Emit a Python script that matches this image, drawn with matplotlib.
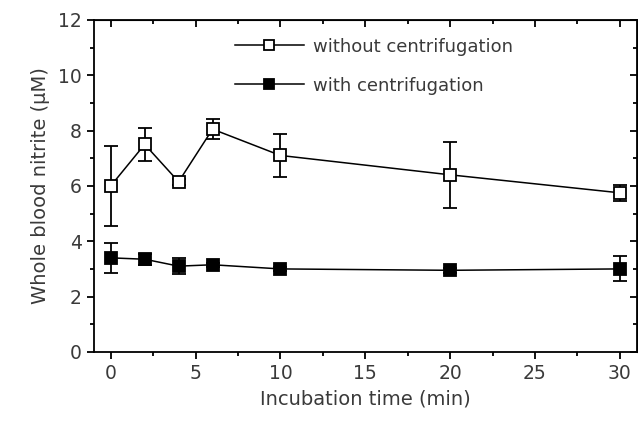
import numpy as np
import matplotlib.pyplot as plt
from matplotlib.ticker import MultipleLocator
from matplotlib.lines import Line2D

tiempo = [0, 2, 4, 6, 10, 20, 30]

sin_centr = [6.0, 7.5, 6.15, 8.05, 7.1, 6.4, 5.75]
sin_centr_err = [1.45, 0.6, 0.1, 0.35, 0.78, 1.2, 0.28]

con_centr = [3.4, 3.35, 3.1, 3.15, 3.0, 2.95, 3.0]
con_centr_err = [0.55, 0.2, 0.3, 0.08, 0.08, 0.1, 0.45]

gris = '#3a3a3a'
plt.rcParams['font.family'] = 'DejaVu Sans'

fig = plt.figure(figsize=(6.38, 4.22), dpi=100)
ax = fig.add_axes([0.147, 0.166, 0.851, 0.787])

ax.errorbar(tiempo, sin_centr, yerr=sin_centr_err, color='black', lw=1.1,
            marker='s', ms=8, mfc='white', mec='black', mew=1.3,
            capsize=5, capthick=1.3, elinewidth=1.3)
ax.errorbar(tiempo, con_centr, yerr=con_centr_err, color='black', lw=1.1,
            marker='s', ms=8, mfc='black', mec='black', mew=1.3,
            capsize=5, capthick=1.3, elinewidth=1.3)

ax.set_xlim(-1, 31)
ax.set_ylim(0, 12)
ax.xaxis.set_major_locator(MultipleLocator(5))
ax.xaxis.set_minor_locator(MultipleLocator(2.5))
ax.yaxis.set_major_locator(MultipleLocator(2))
ax.yaxis.set_minor_locator(MultipleLocator(1))

ax.tick_params(which='both', direction='out', top=False, right=False,
               labelsize=13.5, labelcolor=gris, width=1.3)
ax.tick_params(which='major', length=5)
ax.tick_params(which='minor', length=3)
for s in ax.spines.values():
    s.set_linewidth(1.3)

# ticks hacia dentro arriba y a la derecha
sec = ax.secondary_xaxis('top')
sec.xaxis.set_major_locator(MultipleLocator(5))
sec.xaxis.set_minor_locator(MultipleLocator(2.5))
sec.tick_params(which='both', direction='in', labeltop=False, width=1.3)
sec.tick_params(which='major', length=5)
sec.tick_params(which='minor', length=3)
secy = ax.secondary_yaxis('right')
secy.yaxis.set_major_locator(MultipleLocator(2))
secy.yaxis.set_minor_locator(MultipleLocator(1))
secy.tick_params(which='both', direction='in', labelright=False, width=1.3)
secy.tick_params(which='major', length=5)
secy.tick_params(which='minor', length=3)

ax.set_xlabel('Incubation time (min)', fontsize=14, color=gris, labelpad=5)
ax.set_ylabel('Whole blood nitrite (µM)', fontsize=14, color=gris, labelpad=6)

handles = [
    Line2D([], [], color='black', lw=1.1, marker='s', ms=6.5, mfc='white', mec='black', mew=1.3),
    Line2D([], [], color='black', lw=1.1, marker='s', ms=6.5, mfc='black', mec='black', mew=1.3),
]
ax.legend(handles, ['without centrifugation', 'with centrifugation'],
          loc='upper left', bbox_to_anchor=(0.23, 0.995), frameon=False,
          fontsize=13, handlelength=3.8, handletextpad=0.55,
          labelspacing=1.15, labelcolor=gris)

fig.savefig('out.png', dpi=100)
